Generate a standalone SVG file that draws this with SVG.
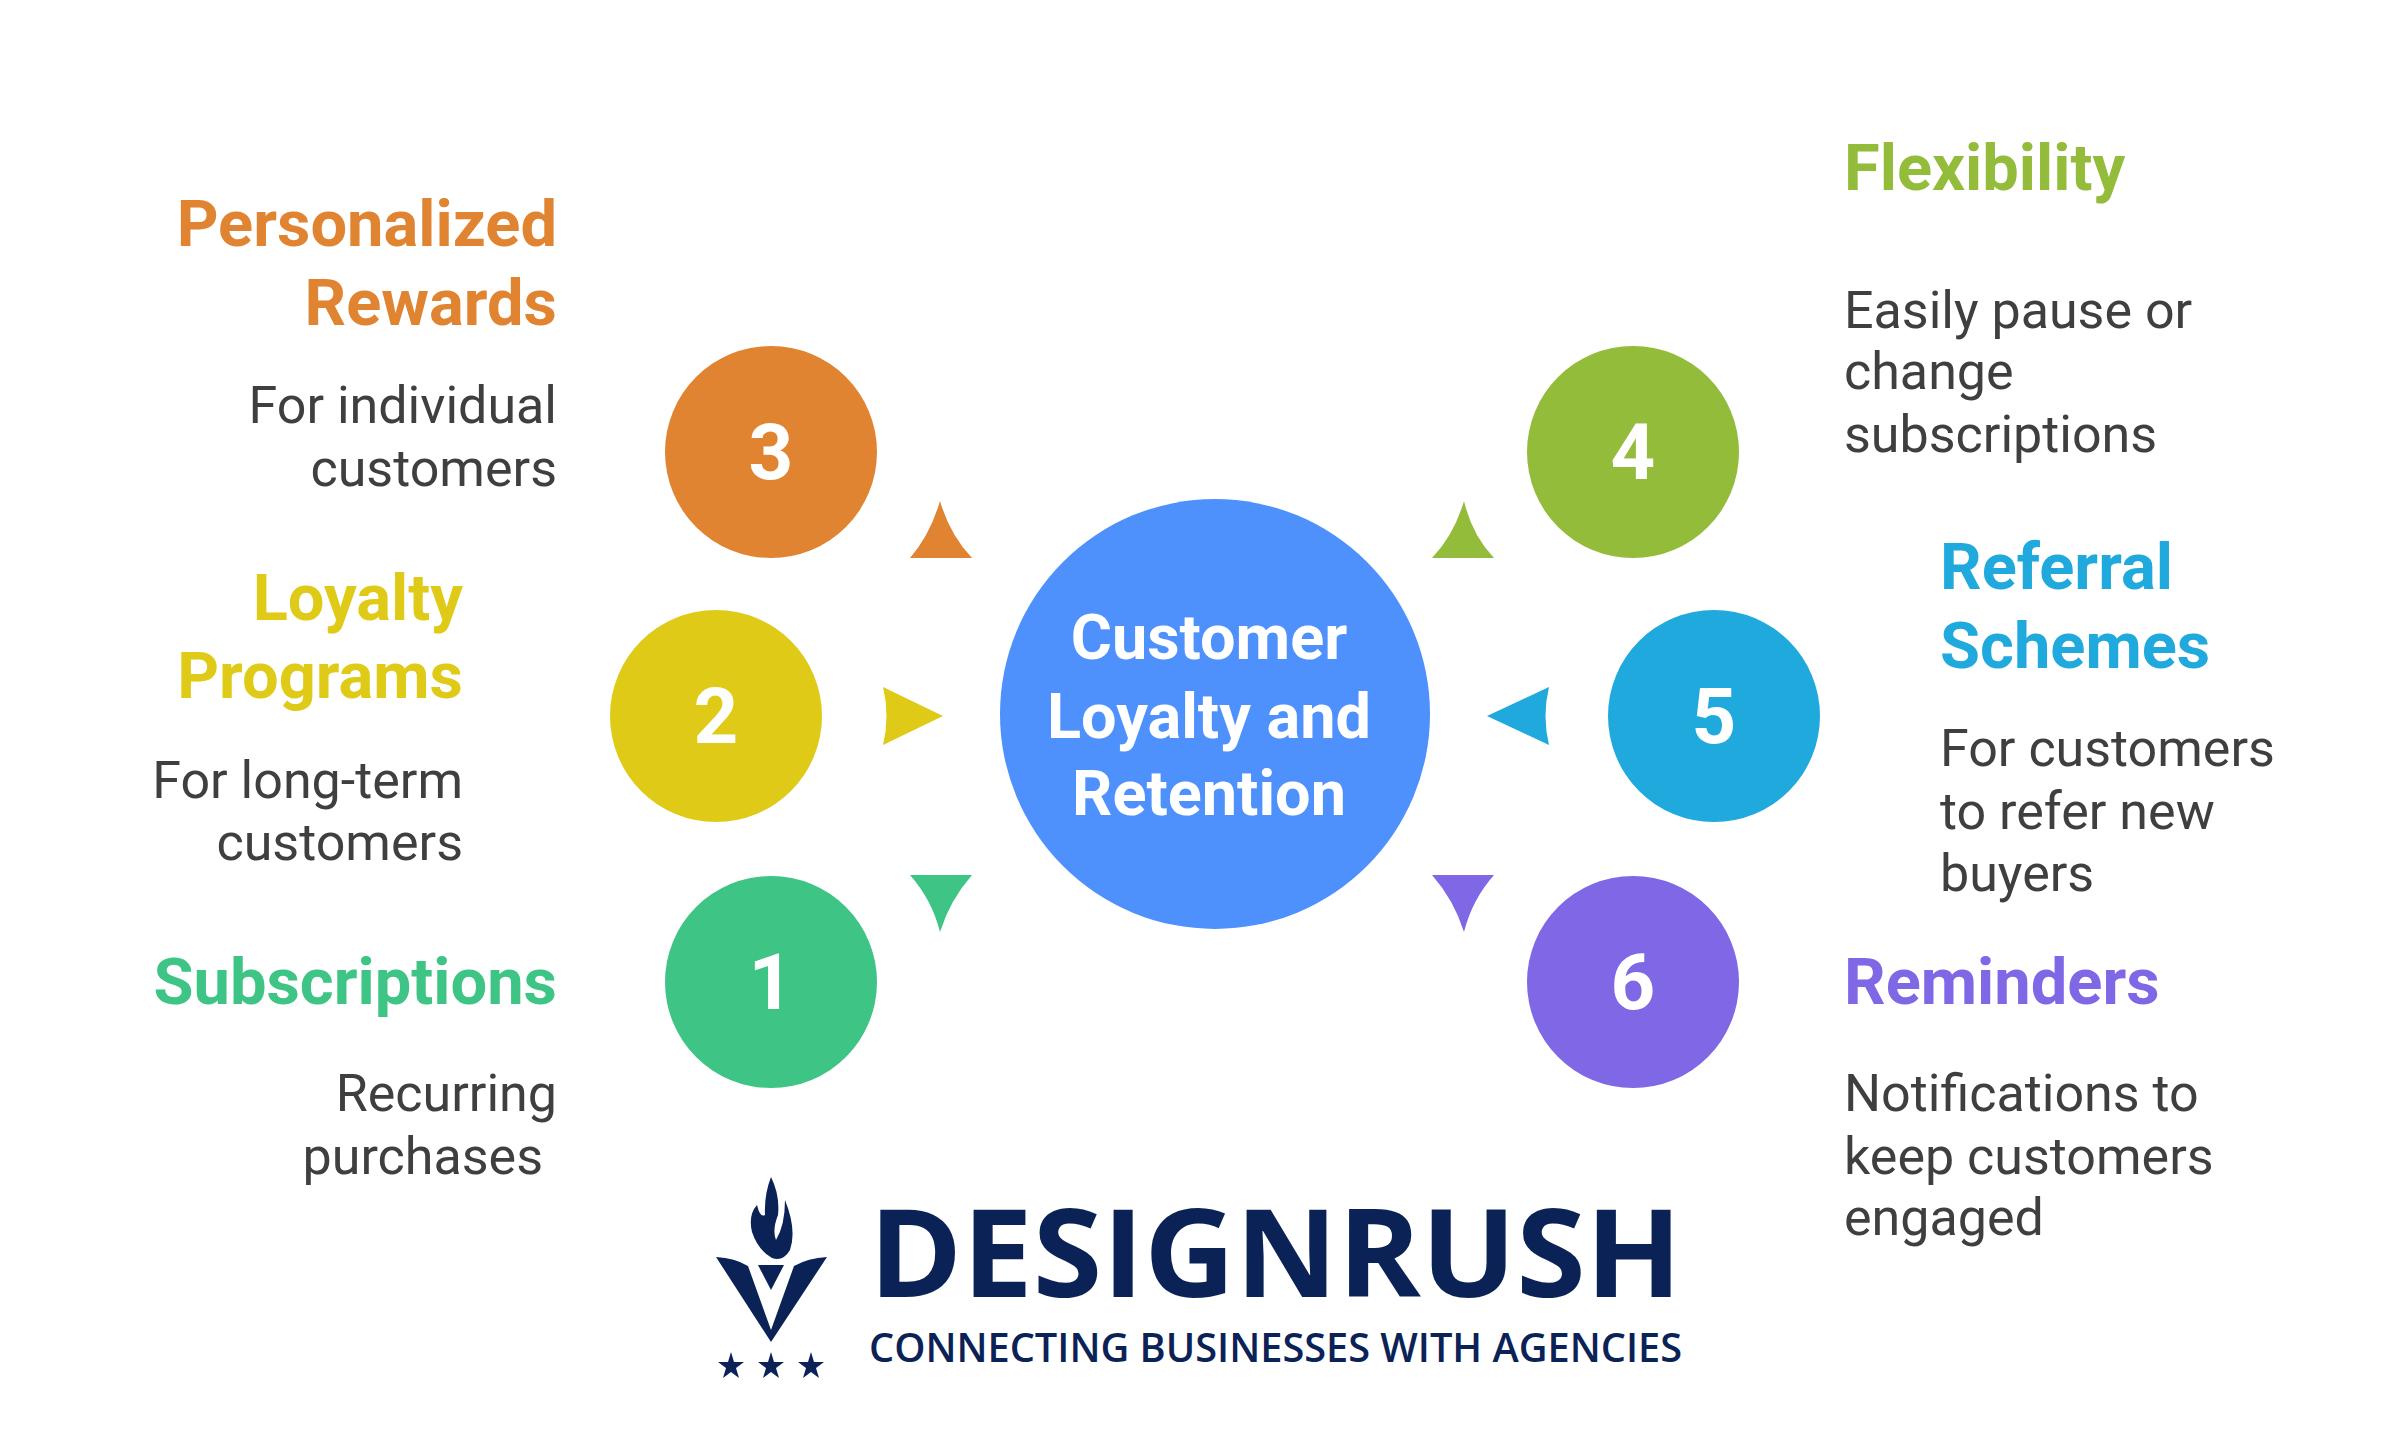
<svg xmlns="http://www.w3.org/2000/svg" width="2400" height="1439" viewBox="0 0 2400 1439">
<style>
text{font-family:Roboto,"Liberation Sans",sans-serif}
.t{font-weight:bold;font-size:65px}
.d{font-size:52px;fill:#3f3f3f}
.n{font-weight:bold;font-size:78px;fill:#fff;text-anchor:middle}
.r{text-anchor:end}
</style>
<rect width="2400" height="1439" fill="#fff"/>
<g id="connectors">
<path d="M940,501 Q950,535 972,558 L910,558 Q930,535 940,501Z" fill="#E08431"/>
<path d="M910,875 L972,875 Q950,900 940,932 Q932,900 910,875Z" fill="#3EC484"/>
<path d="M883,687 L943,716 L883,745 Q890,716 883,687Z" fill="#DFCB17"/>
<path d="M1464,501 Q1472,535 1494,558 L1432,558 Q1454,535 1464,501Z" fill="#93BC3B"/>
<path d="M1432,875 L1494,875 Q1472,900 1464,932 Q1454,900 1432,875Z" fill="#7F67E5"/>
<path d="M1549,687 L1487,716 L1549,745 Q1542,716 1549,687Z" fill="#1FA9DC"/>
</g>
<g id="center">
<circle cx="1215" cy="714" r="215" fill="#4F91FC"/>
<text x="1209" y="659" class="n" style="font-size:63px">Customer</text>
<text x="1209" y="738" class="n" style="font-size:63px">Loyalty and</text>
<text x="1209" y="815" class="n" style="font-size:63px">Retention</text>
</g>
<g id="n3"><circle cx="771" cy="452" r="106" fill="#E08431"/><text x="771" y="479" class="n">3</text>
<text x="557" y="246" class="t r" fill="#E08431">Personalized</text><text x="557" y="325" class="t r" fill="#E08431">Rewards</text>
<text x="557" y="423" class="d r">For individual</text><text x="557" y="486" class="d r">customers</text></g>
<g id="n2"><circle cx="716" cy="716" r="106" fill="#DFCB17"/><text x="716" y="743" class="n">2</text>
<text x="463" y="620" class="t r" fill="#DFCB17">Loyalty</text><text x="463" y="698" class="t r" fill="#DFCB17">Programs</text>
<text x="463" y="798" class="d r">For long-term</text><text x="463" y="860" class="d r">customers</text></g>
<g id="n1"><circle cx="771" cy="982" r="106" fill="#3EC484"/><text x="771" y="1009" class="n">1</text>
<text x="557" y="1004" class="t r" fill="#3EC484">Subscriptions</text>
<text x="557" y="1111" class="d r">Recurring</text><text x="543" y="1174" class="d r">purchases</text></g>
<g id="n4"><circle cx="1633" cy="452" r="106" fill="#93BC3B"/><text x="1633" y="479" class="n">4</text>
<text x="1844" y="190" class="t" fill="#93BC3B">Flexibility</text>
<text x="1844" y="328" class="d">Easily pause or</text><text x="1844" y="389" class="d">change</text><text x="1844" y="452" class="d">subscriptions</text></g>
<g id="n5"><circle cx="1714" cy="716" r="106" fill="#1FA9DC"/><text x="1714" y="743" class="n">5</text>
<text x="1940" y="589" class="t" fill="#1FA9DC">Referral</text><text x="1940" y="668" class="t" fill="#1FA9DC">Schemes</text>
<text x="1940" y="766" class="d">For customers</text><text x="1940" y="829" class="d">to refer new</text><text x="1940" y="891" class="d">buyers</text></g>
<g id="n6"><circle cx="1633" cy="982" r="106" fill="#7F67E5"/><text x="1633" y="1009" class="n">6</text>
<text x="1844" y="1004" class="t" fill="#7F67E5">Reminders</text>
<text x="1844" y="1111" class="d">Notifications to</text><text x="1844" y="1174" class="d">keep customers</text><text x="1844" y="1235" class="d">engaged</text></g>
<g id="logo" fill="#0B2257">
<path d="M716,1257 Q735,1258 748,1266 L771,1330 L794,1266 Q808,1258 827,1257 L771,1342Z"/>
<path d="M758,1265 L784,1265 L771,1290Z"/>
<path d="M771,1177 Q780,1195 778,1215 Q772,1230 776,1240 Q785,1225 785,1200 Q797,1230 790,1250 Q783,1262 772,1258 Q758,1250 752,1232 Q748,1215 757,1205 Q760,1218 765,1215 Q764,1195 771,1177Z"/>
<polygon points="731,1352 734,1362 744,1362 736,1368 739,1378 731,1372 723,1378 726,1368 718,1362 728,1362"/>
<polygon points="771,1352 774,1362 784,1362 776,1368 779,1378 771,1372 763,1378 766,1368 758,1362 768,1362"/>
<polygon points="811,1352 814,1362 824,1362 816,1368 819,1378 811,1372 803,1378 806,1368 798,1362 808,1362"/>
<text x="869" y="1297" font-size="122" font-weight="bold" textLength="813" lengthAdjust="spacingAndGlyphs" style="font-family:'Open Sans',sans-serif">DESIGNRUSH</text>
<text x="869" y="1362" font-size="40" font-weight="600" textLength="813" lengthAdjust="spacingAndGlyphs" style="font-family:'Open Sans',sans-serif">CONNECTING BUSINESSES WITH AGENCIES</text>
</g>
</svg>
